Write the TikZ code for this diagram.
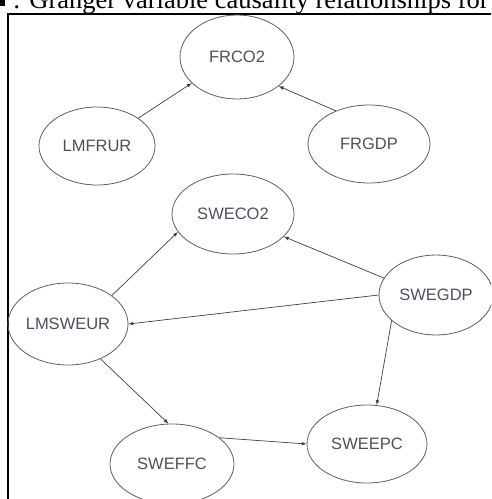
\documentclass[tikz,border=0pt]{standalone}
\usepackage{fontspec}
\setmainfont{Liberation Serif}
\newfontfamily\nodefont{Liberation Sans}
\usepackage{tikz}
\usetikzlibrary{shapes.geometric}
\definecolor{nodetext}{RGB}{78,78,98}
\definecolor{rim}{RGB}{95,95,95}

\begin{document}
\begin{tikzpicture}
    [
    x=1pt,y=-1pt,
    var/.style={ellipse,draw=rim,line width=0.8pt,inner sep=0pt,
      minimum width=118pt,minimum height=80pt,text=nodetext,
      font=\nodefont\fontsize{16.5}{18}\selectfont},
    link/.style={-latex,draw=black!75,line width=0.7pt},
    ]
    \useasboundingbox (0,0) rectangle (491,499);
    \clip (0,0) rectangle (491,499);

    % caption and frame
    \fill [black] (0,0) rectangle (5,6);
    \node (cap) at (13,8) [anchor=base west,inner sep=0pt,
      font=\fontsize{26.5}{30}\selectfont] {: Granger variable causality relationships for};
    \draw [line width=2pt] (8,499) -- (8,14) -- (495,14);

    \node (frco2) at (237,57) [var, minimum width=114pt, minimum height=84pt] {FRCO2};
    \node (lmfrur) at (97,146) [var, minimum width=116pt, minimum height=78pt] {LMFRUR};
    \node (frgdp) at (369,144) [var, minimum width=122pt, minimum height=78pt] {FRGDP};
    \node (sweco2) at (233,214) [var, minimum width=122pt] {SWECO2};
    \node (swegdp) at (436,295) [var, minimum width=114pt] {SWEGDP};
    \node (lmsweur) at (68,324) [var, minimum width=120pt, minimum height=82pt] {LMSWEUR};
    \node (sweffc) at (172,464) [var, minimum width=124pt] {SWEFFC};
    \node (sweepc) at (367,444) [var, minimum width=120pt, minimum height=78pt] {SWEEPC};

    \draw [link] (lmfrur.34) to (frco2.210);
    \draw [link] (frgdp.135) to (frco2.325);
    \draw [link] (lmsweur.33) to (sweco2.198);
    \draw [link] (swegdp.162) to (sweco2.336);
    \draw [link] (swegdp.180) to (lmsweur.0);
    \draw [link] (swegdp.210) to (sweepc.76);
    \draw [link] (lmsweur.313) to (sweffc.95);
    \draw [link] (sweffc.29) to (sweepc.180);
  \end{tikzpicture}
\end{document}
